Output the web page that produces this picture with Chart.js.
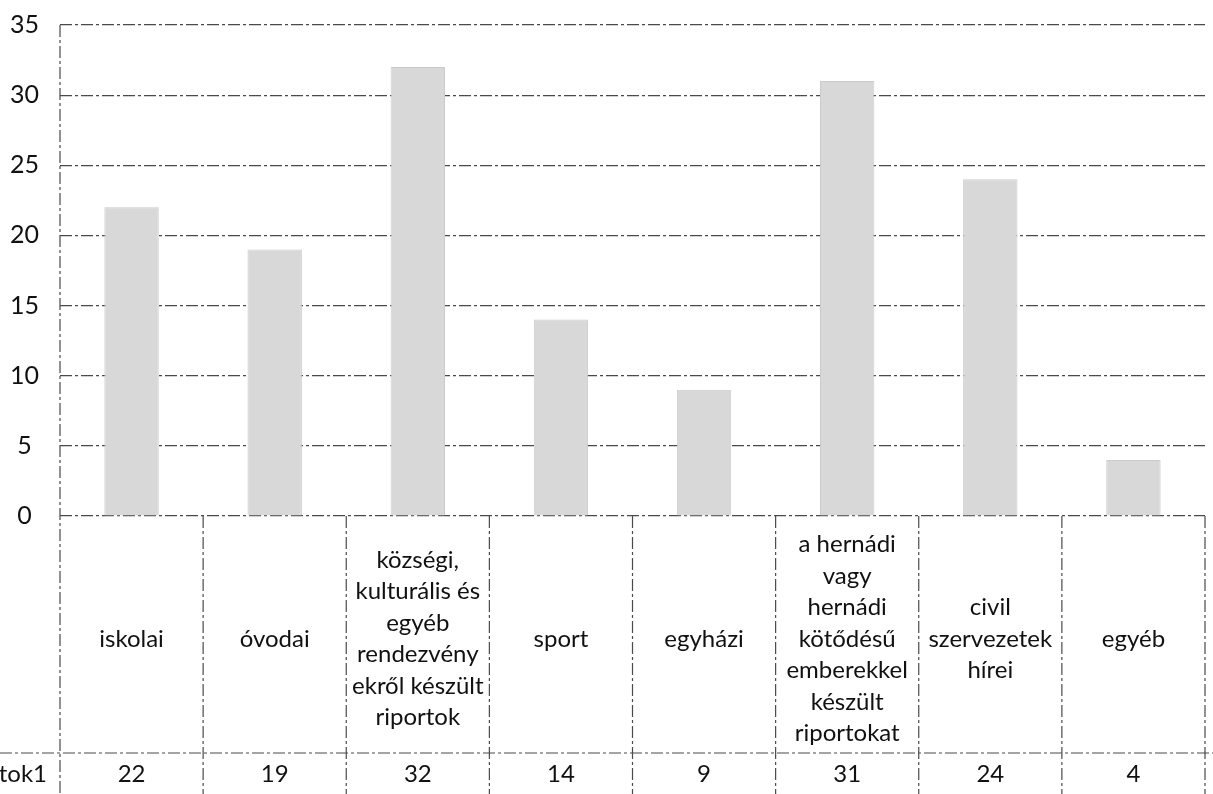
<!DOCTYPE html>
<html>
<head>
<meta charset="utf-8">
<script src="https://cdn.jsdelivr.net/npm/chart.js@4/dist/chart.umd.min.js"></script>
<style>
  html, body { margin: 0; background: #fff; }
  #wrap { width: 1213px; height: 794px; }
</style>
</head>
<body>
<div id="wrap"><canvas id="chart"></canvas></div>
<script>
// categories (already wrapped the way the table cells show them)
const categories = [
  ['iskolai'],
  ['óvodai'],
  ['községi,', 'kulturális és', 'egyéb', 'rendezvény', 'ekről készült', 'riportok'],
  ['sport'],
  ['egyházi'],
  ['a hernádi', 'vagy', 'hernádi', 'kötődésű', 'emberekkel', 'készült', 'riportokat'],
  ['civil', 'szervezetek', 'hírei'],
  ['egyéb']
];
const values = [22, 19, 32, 14, 9, 31, 24, 4];
const seriesName = 'tok1';
const yMin = 0;
const yMax = 35;
const yStep = 5;

const FONT = 'Lato, "Open Sans", sans-serif';
const LINE = '#4a4a4a';
const DASH = [12, 3, 3, 3];

// data table under the plot (category cells + value row)
const tablePlugin = {
  id: 'dataTable',
  afterDraw(chart) {
    const ctx = chart.ctx;
    const x = chart.scales.x;
    const area = chart.chartArea;
    const n = categories.length;
    const cw = (x.right - x.left) / n;
    const rowY = 753;
    const bottom = chart.height;

    ctx.save();
    ctx.strokeStyle = LINE;
    ctx.lineWidth = 1.2;
    ctx.setLineDash(DASH);

    // left axis line, top to bottom
    ctx.beginPath();
    ctx.moveTo(area.left, area.top);
    ctx.lineTo(area.left, bottom);
    ctx.stroke();

    // cell separators
    for (let i = 1; i <= n; i++) {
      const bx = x.left + cw * i;
      ctx.beginPath();
      ctx.moveTo(bx, area.bottom);
      ctx.lineTo(bx, bottom);
      ctx.stroke();
    }

    // value row divider
    ctx.beginPath();
    ctx.moveTo(0, rowY);
    ctx.lineTo(chart.width, rowY);
    ctx.stroke();
    ctx.setLineDash([]);

    // texts
    ctx.fillStyle = '#111';
    ctx.textAlign = 'center';
    ctx.textBaseline = 'middle';
    ctx.font = '24px ' + FONT;
    const lh = 31.5;
    const mid = 639;
    categories.forEach((lines, i) => {
      const cx = x.getPixelForValue(i);
      const y0 = mid - (lines.length - 1) * lh / 2;
      lines.forEach((t, k) => ctx.fillText(t, cx, y0 + k * lh, cw - 6));
      ctx.fillText(String(values[i]), cx, 774);
    });

    ctx.textAlign = 'right';
    ctx.fillText(seriesName, 47, 774);
    ctx.restore();
  }
};

new Chart(document.getElementById('chart'), {
  type: 'bar',
  data: {
    labels: categories,
    datasets: [{
      label: seriesName,
      data: values,
      backgroundColor: '#d8d8d8',
      borderColor: '#cbcbcb',
      borderWidth: 1,
      barPercentage: 0.38,
      categoryPercentage: 1
    }]
  },
  options: {
    responsive: true,
    maintainAspectRatio: false,
    animation: false,
    layout: { padding: { top: 25, right: 8, left: 0, bottom: 0 } },
    plugins: {
      legend: { display: false },
      tooltip: { enabled: false }
    },
    scales: {
      x: {
        ticks: { display: false },
        grid: { display: false },
        border: { display: false },
        afterFit: s => { s.height = 278; }
      },
      y: {
        min: yMin,
        max: yMax,
        ticks: {
          stepSize: yStep,
          crossAlign: 'center',
          padding: 21,
          color: '#111',
          font: { family: FONT, size: 25 }
        },
        grid: { color: LINE, lineWidth: 1.2, drawTicks: false },
        border: { display: false, dash: DASH },
        afterFit: s => {
          s.width = 60;
          s.paddingTop = 0;
          s.paddingBottom = 0;
        }
      }
    }
  },
  plugins: [tablePlugin]
});
</script>
</body>
</html>
